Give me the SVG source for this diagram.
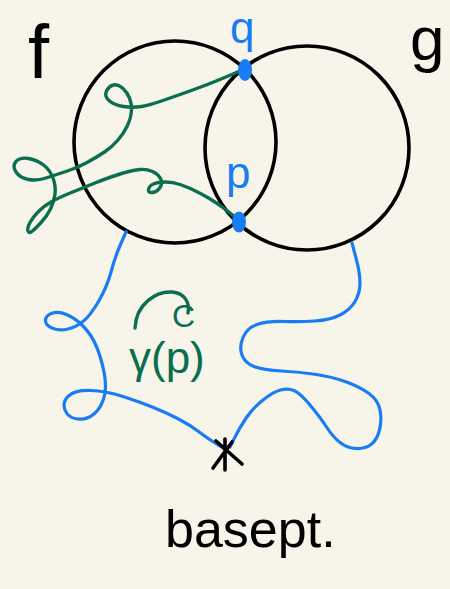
<svg xmlns="http://www.w3.org/2000/svg" width="450" height="589" viewBox="0 0 450 589">
<style>
.ink{fill:none;stroke-linecap:round;stroke-linejoin:round}
.blk{stroke:#000;stroke-width:3.6}
.blu{stroke:#1a7cf2;stroke-width:3.2}
.grn{stroke:#0b6e4f;stroke-width:3.4}
.t{font-family:"Liberation Sans","DejaVu Sans",sans-serif}
.tb{fill:#000}
.tu{fill:#1a7cf2}
.tg{fill:#0b6e4f}
.dot{fill:#1a7cf2}
</style>
<rect width="450" height="589" fill="#f7f5ea"/>
<g id="circle-f"><ellipse class="ink blk" cx="175" cy="142" rx="101" ry="101"/></g>
<g id="circle-g"><ellipse class="ink blk" cx="307" cy="148" rx="102" ry="102"/></g>
<g id="connectors">
<path id="loop-left" class="ink blu" d="M126,232 L120.5,244.5 Q115,257 111,272 Q107,287 98.5,301.5 Q90,316 83,321.5 Q76,327 68,329 Q60,331 53,328.5 Q46,326 45.5,321 Q45,316 51.5,313.5 Q58,311 66.5,314.5 Q75,318 83,326 Q91,334 96,345.5 Q101,357 104,372 Q107,387 104,397.5 Q101,408 94,414 Q87,420 77.5,419 Q68,418 65,410 Q62,402 68.5,396 Q75,390 90.5,390.5 Q106,391 123,396.5 Q140,402 153.5,407.5 Q167,413 178.5,419 Q190,425 198.5,431.5 Q207,438 215,443 L223,448"/>
<path id="loop-right" class="ink blu" d="M352,243 L356,258 Q360,273 360,283 Q360,293 355,301.5 Q350,310 340,315 Q330,320 315,321 Q300,322 283.5,321.5 Q267,321 257,324.5 Q247,328 243,337.5 Q239,347 242,355 Q245,363 254,366.5 Q263,370 281.5,371 Q300,372 316.5,374.5 Q333,377 346.5,382 Q360,387 369,393.5 Q378,400 380,410 Q382,420 379.5,430 Q377,440 371,444.5 Q365,449 356,448.5 Q347,448 340,442.5 Q333,437 326.5,427 Q320,417 310,405 Q300,393 294,390.5 Q288,388 280.5,390 Q273,392 263,400 Q253,408 246.5,417.5 Q240,427 235,437 L230,447"/>
<path id="path-qp" class="ink grn" d="M240,71 L223.5,78 Q207,85 190,91 Q173,97 161.5,101 Q150,105 141.5,106.5 Q133,108 123.5,106.5 Q114,105 109,100.5 Q104,96 106.5,91 Q109,86 113.5,85 Q118,84 122.5,88 Q127,92 129.5,98 Q132,104 131.5,111 Q131,118 127.5,125.5 Q124,133 118,140 Q112,147 104.5,152 Q97,157 87,162.5 Q77,168 66,171.5 Q55,175 46,178 Q37,181 28.5,179.5 Q20,178 16,172 Q12,166 16,161.5 Q20,157 28.5,158.5 Q37,160 43.5,165 Q50,170 53,178 Q56,186 55,194 Q54,202 50.5,209 Q47,216 41.5,222 Q36,228 32.5,231 Q29,234 28,231 Q27,228 30,222.5 Q33,217 38.5,211.5 Q44,206 51,202 Q58,198 69,193.5 Q80,189 95,183 Q110,177 121.5,173.5 Q133,170 140,169.5 Q147,169 152.5,171.5 Q158,174 160.5,178.5 Q163,183 160,187.5 Q157,192 152.5,192.5 Q148,193 148.5,189.5 Q149,186 153.5,184 Q158,182 165.5,182 Q173,182 180,184.5 Q187,187 193.5,190 Q200,193 208.5,198 Q217,203 223.5,208 Q230,213 234,216 L238,219"/>
<path id="arc-c" class="ink grn" d="M135,328 C136,304 156,291 172,292 C185,293 190,303 188,313"/>
</g>
<g id="point-q"><ellipse class="dot" cx="245" cy="70" rx="7" ry="11"/><text class="t tu" x="230" y="43" font-size="44">q</text></g>
<g id="point-p"><ellipse class="dot" cx="239" cy="222" rx="7" ry="10.5"/><text class="t tu" x="226" y="188" font-size="44">p</text></g>
<g id="label-f"><text class="t tb" x="28" y="78" font-size="76">f</text></g>
<g id="label-g"><text class="t tb" x="410" y="60" font-size="62">g</text></g>
<g id="label-gamma"><text class="t tg" x="172" y="327" font-size="32">C</text><text class="t tg" x="129" y="373" font-size="44">γ(p)</text></g>
<g id="basepoint">
<path class="ink blk" d="M225,439 L225,470 M213,468 L232,442 M216,441 L242,464"/>
<text class="t tb" x="165" y="547" font-size="52">basept.</text>
</g>
</svg>
